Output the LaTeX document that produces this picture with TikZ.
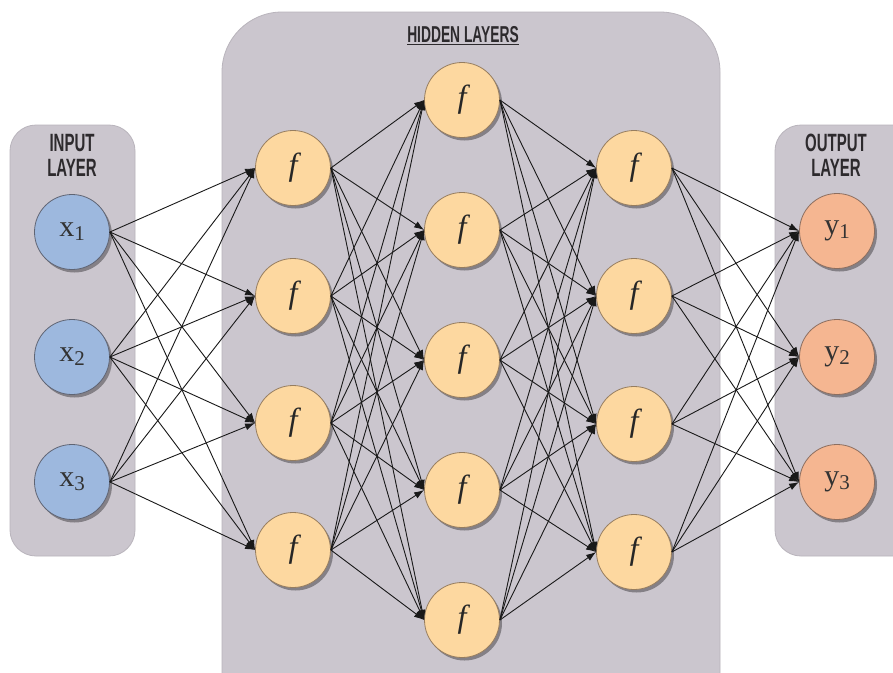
\documentclass[tikz,border=0pt]{standalone}
\usepackage{fontspec}
\newfontfamily\labelfont[FakeStretch=0.6]{Liberation Sans}
\newfontfamily\nodeserif{Liberation Serif}
\usetikzlibrary{shadows,arrows.meta}
\definecolor{boxgray}{RGB}{203,198,206}
\definecolor{boxedge}{RGB}{185,180,188}
\definecolor{inblue}{RGB}{157,184,222}
\definecolor{inedge}{RGB}{95,100,115}
\definecolor{hidorange}{RGB}{253,216,160}
\definecolor{hidedge}{RGB}{150,125,95}
\definecolor{outsalmon}{RGB}{245,182,145}
\definecolor{outedge}{RGB}{140,110,95}
\definecolor{labelcol}{RGB}{45,42,45}
\tikzset{
  layerbox/.style={fill=boxgray, draw=boxedge, line width=0.8pt},
  neuron/.style={circle, minimum size=75pt, inner sep=0pt, line width=0.8pt,
    drop shadow={shadow xshift=2.5pt, shadow yshift=-3pt, opacity=0.35, fill=black}},
  innode/.style={neuron, fill=inblue, draw=inedge, font=\nodeserif\fontsize{30}{30}\selectfont, text=black!80},
  hidnode/.style={neuron, fill=hidorange, draw=hidedge, font=\nodeserif\itshape\fontsize{32}{32}\selectfont, text=black!85},
  outnode/.style={neuron, fill=outsalmon, draw=outedge, font=\nodeserif\fontsize{30}{30}\selectfont, text=black!80},
  layerlabel/.style={font=\labelfont\bfseries\fontsize{25}{25}\selectfont, text=labelcol, align=center},
  conn/.style={-{Latex[length=10pt,width=7pt]}, line width=0.9pt, draw=black!90}
}
\newcommand{\xsub}[2]{#1\raisebox{-0.3ex}{\fontsize{21}{21}\selectfont #2}}
\begin{document}
\begin{tikzpicture}[x=1pt,y=-1pt]
\clip (0,0) rectangle (893,672);
\fill[white] (0,0) rectangle (893,672);
% layer boxes
\draw[layerbox, rounded corners=26pt] (10,125) rectangle (135,556);
\draw[layerbox, rounded corners=60pt] (222,12) rectangle (720,740);
\draw[layerbox, rounded corners=26pt] (775,125) rectangle (930,556);
% labels
\node[layerlabel] (inlab) at (72,155) {INPUT\\LAYER};
\node[layerlabel] (outlab) at (836,155) {OUTPUT\\LAYER};
\node[layerlabel, font=\labelfont\bfseries\fontsize{23}{24}\selectfont] (hidlab) at (463,36) {\underline{HIDDEN LAYERS}};
% input
\node[innode] (i1) at (72,232) {\xsub{x}{1}};
\node[innode] (i2) at (72,357) {\xsub{x}{2}};
\node[innode] (i3) at (72,482) {\xsub{x}{3}};
% hidden 1
\foreach \n/\y in {1/168,2/296,3/423,4/550}
  \node[hidnode] (a\n) at (293,\y) {f};
% hidden 2
\foreach \n/\y in {1/100,2/230,3/360,4/490,5/620}
  \node[hidnode] (b\n) at (462,\y) {f};
% hidden 3
\foreach \n/\y in {1/168,2/296,3/424,4/552}
  \node[hidnode] (c\n) at (634,\y) {f};
% output
\node[outnode] (o1) at (837,231) {\xsub{y}{1}};
\node[outnode] (o2) at (837,357) {\xsub{y}{2}};
\node[outnode] (o3) at (837,482) {\xsub{y}{3}};
% connections
\foreach \s in {1,2,3}
  \foreach \t in {1,2,3,4}
    \draw[conn] (i\s.east) -- (a\t.west);
\foreach \s in {1,2,3,4}
  \foreach \t in {1,2,3,4,5}
    \draw[conn] (a\s.east) -- (b\t.west);
\foreach \s in {1,2,3,4,5}
  \foreach \t in {1,2,3,4}
    \draw[conn] (b\s.east) -- (c\t.west);
\foreach \s in {1,2,3,4}
  \foreach \t in {1,2,3}
    \draw[conn] (c\s.east) -- (o\t.west);
\end{tikzpicture}
\end{document}
